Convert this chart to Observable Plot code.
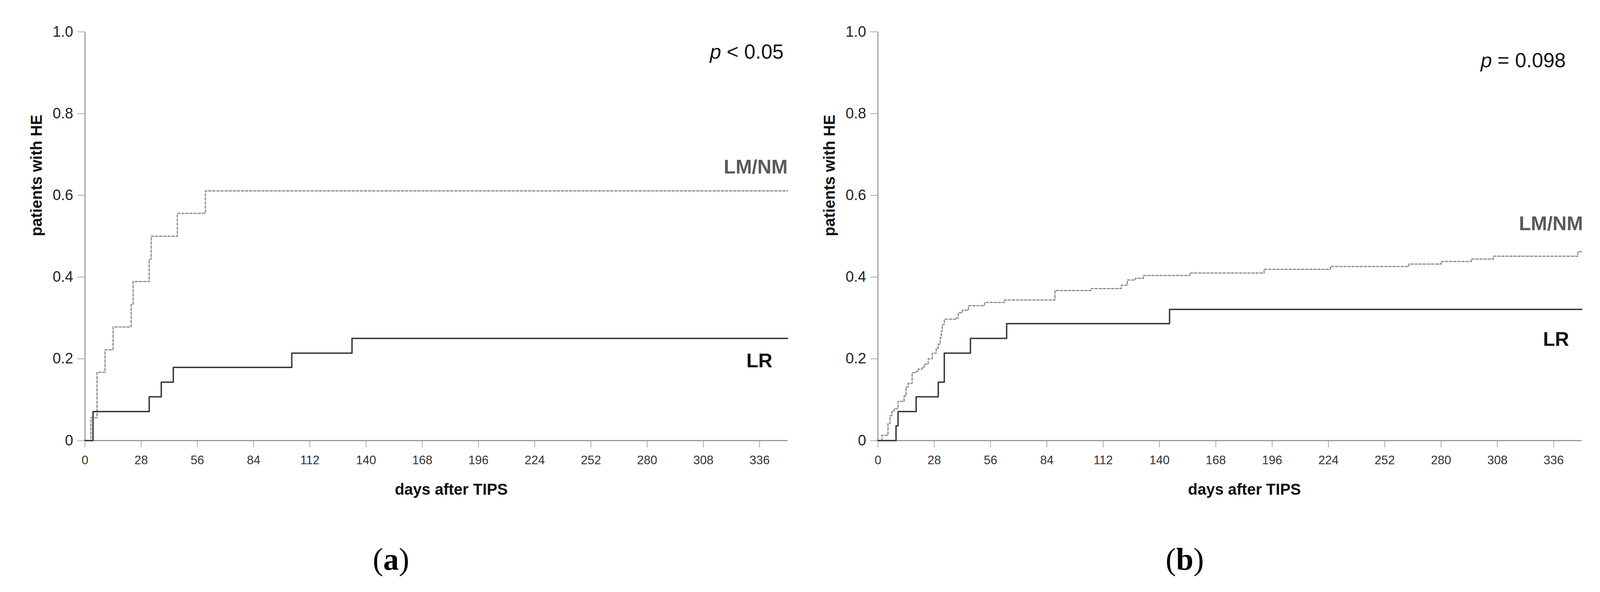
<!DOCTYPE html>
<html><head><meta charset="utf-8">
<script src="https://cdn.jsdelivr.net/npm/d3@7"></script>
<script src="https://cdn.jsdelivr.net/npm/@observablehq/plot@0.6"></script>
<style>
html,body{margin:0;padding:0;background:#fff;overflow:hidden;}
#page{position:relative;height:1515px;overflow:hidden;background:#fff;}
.panel{position:absolute;top:0;}
.panel svg{max-width:none !important;}
.cap{position:absolute;top:1391px;font-family:"Liberation Serif","DejaVu Serif",serif;font-size:80px;line-height:1;transform:translateX(-50%);color:#000;white-space:nowrap;}
</style></head><body><div id="page"></div>
<script>
// ---- data ----
const dayTicks = [0,28,56,84,112,140,168,196,224,252,280,308,336];
const probTicks = [0,0.2,0.4,0.6,0.8,1.0];
const seriesNames = ["LR","LM/NM"];
const xTitle = "days after TIPS";
const yTitle = "patients with HE";
// panel (a)
const aLRDays   = [0,4,32,38,44,103,133,350];
const aLRValues = [0,0.071,0.107,0.143,0.179,0.214,0.25,0.25];
const aLMDays   = [0,3,6,10,14,23,24,32,33,46,60,350];
const aLMValues = [0,0.056,0.167,0.222,0.278,0.333,0.389,0.444,0.5,0.556,0.611,0.611];
// panel (b)
const bLRDays   = [0,9,10,19,30,33,46,64,145,350];
const bLRValues = [0,0.036,0.071,0.107,0.143,0.214,0.25,0.286,0.321,0.321];
const bLMDays   = [0,2,5,6,7,8,10,13,14,15,17,19,20,22,23,25,27,29,30,31,31.5,32,33,39,40,42,45,53,63,88,106,121,124,128,132,155,192,225,264,280,295,306,348,350];
const bLMValues = [0,0.013,0.042,0.061,0.072,0.078,0.096,0.109,0.131,0.140,0.166,0.169,0.175,0.180,0.187,0.200,0.214,0.226,0.236,0.252,0.268,0.284,0.297,0.300,0.313,0.319,0.330,0.338,0.344,0.367,0.372,0.380,0.393,0.397,0.404,0.410,0.419,0.426,0.432,0.438,0.444,0.451,0.462,0.462];
const pLabels = ["< 0.05","= 0.098"];
const panelTags = ["a","b"];

// ---- styles / layout (designed for 4399 px, scaled to the real viewport width) ----
const W = window.innerWidth || 4399;
const sx = W / 4399;
const FONT = "'Liberation Sans', Arial, sans-serif";
const layouts = [
  {left:0, width:2199, marginLeft:233, marginRight:34, pdx:-11, pdy:68, pGap:160,
   lmdx:0, lmdy:-44, lrdx:-42, lrdy:74, capX:1075, tdx:41},
  {left:2199, width:2200, marginLeft:214, marginRight:51, pdx:-44, pdy:90, pGap:189,
   lmdx:3, lmdy:-55, lrdx:-35, lrdy:93, capX:3257, tdx:40}
];
const panels = [
  {lrDays:aLRDays, lrValues:aLRValues, lmDays:aLMDays, lmValues:aLMValues, p:pLabels[0], tag:panelTags[0]},
  {lrDays:bLRDays, lrValues:bLRValues, lmDays:bLMDays, lmValues:bLMValues, p:pLabels[1], tag:panelTags[1]}
];

const page = document.getElementById("page");
page.style.width = W + "px";

panels.forEach((pn, i) => {
  const L = layouts[i];
  const left = Math.round(L.left * sx);
  const right = Math.round((L.left + L.width) * sx);
  const width = right - left;
  const mL = Math.round((L.left + L.marginLeft) * sx) - left;
  const mR = right - Math.round((L.left + L.width - L.marginRight) * sx);
  const lr = pn.lrDays.map((d, k) => ({day:d, value:pn.lrValues[k], group:seriesNames[0]}));
  const lm = pn.lmDays.map((d, k) => ({day:d, value:pn.lmValues[k], group:seriesNames[1]}));
  const chart = Plot.plot({
    width: width, height: 1300,
    marginLeft: mL, marginRight: mR, marginTop: 81, marginBottom: 173,
    style: {fontFamily: FONT, background: "#fff", overflow: "visible"},
    x: {domain: [0, 350]},
    y: {domain: [0, 1]},
    marks: [
      Plot.axisY({ticks: probTicks, tickSize: 19, tickPadding: 11, tickFormat: d => d === 0 ? "0" : d.toFixed(1),
        fontSize: 38, stroke: "#aaa", strokeWidth: 2, fill: "#222", label: null}),
      Plot.axisX({ticks: dayTicks, tickSize: 18, tickPadding: 20, tickFormat: d => String(d),
        fontSize: 31, stroke: "#aaa", strokeWidth: 2, fill: "#333", label: null}),
      Plot.ruleY([0], {stroke: "#999", strokeWidth: 3}),
      Plot.ruleX([0], {stroke: "#aaa", strokeWidth: 3.5}),
      Plot.line(lm, {x: "day", y: "value", curve: "step-after", stroke: "#8a8a8a", strokeWidth: 3, strokeDasharray: "6,4.5"}),
      Plot.line(lr, {x: "day", y: "value", curve: "step-after", stroke: "#333", strokeWidth: 3.5}),
      Plot.text([lm[lm.length - 1]], {x: "day", y: "value", text: d => d.group, textAnchor: "end", lineAnchor: "bottom",
        dx: L.lmdx * sx, dy: L.lmdy, fontSize: 50, fontWeight: "bold", fill: "#5a5a5a"}),
      Plot.text([lr[lr.length - 1]], {x: "day", y: "value", text: d => d.group, textAnchor: "end", lineAnchor: "bottom",
        dx: L.lrdx * sx, dy: L.lrdy, fontSize: 50, fontWeight: "bold", fill: "#111"}),
      Plot.text([pn.p], {frameAnchor: "top-right", text: d => d, textAnchor: "end", lineAnchor: "bottom",
        dx: L.pdx * sx, dy: L.pdy, fontSize: 52, fill: "#111"}),
      Plot.text(["p"], {frameAnchor: "top-right", text: d => d, textAnchor: "end", lineAnchor: "bottom",
        dx: L.pdx * sx - L.pGap, dy: L.pdy, fontSize: 52, fontStyle: "italic", fill: "#111"}),
      Plot.text([xTitle], {frameAnchor: "bottom", text: d => d, lineAnchor: "bottom", dx: L.tdx * sx, dy: 138,
        fontSize: 40, fontWeight: "bold", fill: "#111"}),
      Plot.text([yTitle], {frameAnchor: "left", text: d => d, rotate: -90, lineAnchor: "bottom", dx: -119 * sx,
        fontSize: 40, fontWeight: "bold", fill: "#111"})
    ]
  });
  const wrap = document.createElement("div");
  wrap.className = "panel";
  wrap.style.left = left + "px";
  wrap.style.width = width + "px";
  wrap.appendChild(chart);
  page.appendChild(wrap);
  const cap = document.createElement("div");
  cap.className = "cap";
  cap.style.left = Math.round(L.capX * sx) + "px";
  cap.innerHTML = "(<b>" + pn.tag + "</b>)";
  page.appendChild(cap);
});
</script></body></html>
